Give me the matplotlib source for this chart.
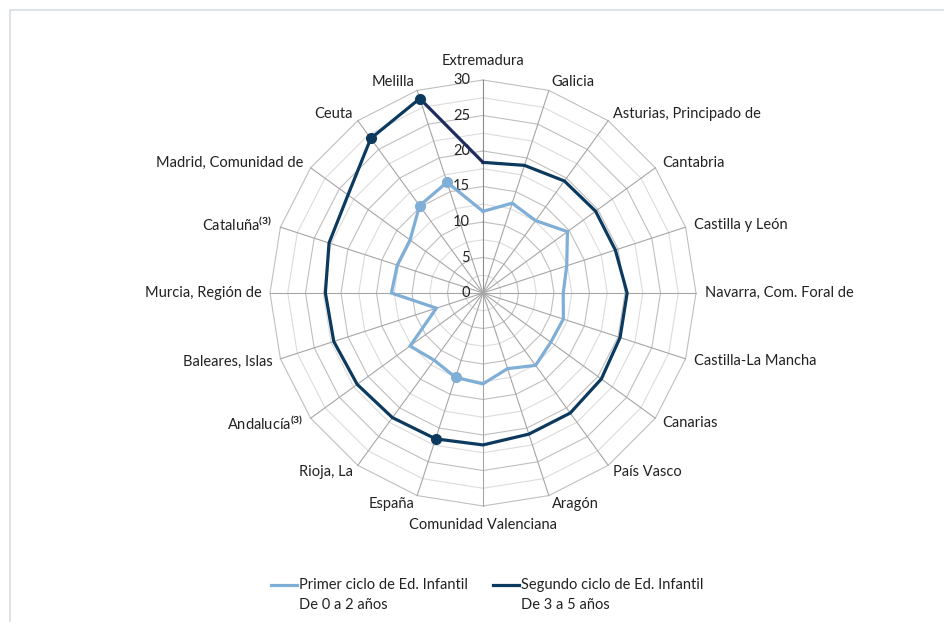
import numpy as np
import matplotlib.pyplot as plt
from matplotlib.lines import Line2D
from matplotlib.patches import Rectangle

plt.rcParams['font.family'] = ['Lato', 'DejaVu Sans']
plt.rcParams['mathtext.fontset'] = 'custom'
plt.rcParams['mathtext.rm'] = 'Lato'
plt.rcParams['mathtext.bf'] = 'Lato:bold'

categories = ['Extremadura', 'Galicia', 'Asturias, Principado de', 'Cantabria',
              'Castilla y León', 'Navarra, Com. Foral de', 'Castilla-La Mancha',
              'Canarias', 'País Vasco', 'Aragón', 'Comunidad Valenciana', 'España',
              'Rioja, La', 'Andalucía$^{\\mathbf{(3)}}$', 'Baleares, Islas',
              'Murcia, Región de', 'Cataluña$^{\\mathbf{(3)}}$', 'Madrid, Comunidad de',
              'Ceuta', 'Melilla']
primer = [11.5, 13.3, 12.6, 14.7, 12.4, 11.3, 11.9, 11.8, 12.6, 11.2,
          12.8, 12.5, 11.7, 12.7, 6.9, 12.9, 12.7, 12.7, 15.2, 16.4]
segundo = [18.4, 18.9, 19.5, 19.6, 19.6, 20.3, 20.3, 20.6, 20.9, 20.9,
           21.4, 21.6, 21.7, 21.9, 22.1, 22.2, 22.8, 23.5, 26.9, 28.8]
marked = ['España', 'Ceuta', 'Melilla']
ticks = [0, 5, 10, 15, 20, 25, 30]
series_names = [('Primer ciclo de Ed. Infantil', 'De 0 a 2 años'),
                ('Segundo ciclo de Ed. Infantil', 'De 3 a 5 años')]

light = '#7FAED6'
dark = '#0B3A5E'

n = len(categories)
theta = 2 * np.pi * np.arange(n) / n
sx, cy = np.sin(theta), np.cos(theta)

W, H = 945, 622
fig = plt.figure(figsize=(W / 100, H / 100), dpi=100)
fig.patches.append(Rectangle((10 / W, -0.1), 1.2, (612 / H) + 0.1,
                             transform=fig.transFigure, fill=False,
                             edgecolor='#D5DBE6', lw=1.2))

# 7.1 px per unit, center at (483, 293)
w = 80 * 7.1
ax = fig.add_axes([(483 - w / 2) / W, (329 - w / 2) / H, w / W, w / H])
ax.set_xlim(-40, 40)
ax.set_ylim(-40, 40)
ax.axis('off')

# rings
for r in np.arange(2.5, 30.1, 2.5):
    c = '#BFBFBF' if r % 5 == 0 else '#DCDCDC'
    ax.plot(np.append(r * sx, r * sx[0]), np.append(r * cy, r * cy[0]),
            color=c, lw=0.8, zorder=1)
# spokes
for i in range(n):
    ax.plot([0, 30 * sx[i]], [0, 30 * cy[i]],
            color='#8C8C8C' if i == 0 else '#A6A6A6', lw=0.8, zorder=2)

for t in ticks:
    ax.text(-1.8, t, str(t), ha='right', va='center', fontsize=10.5, color='#222222')

for i, lab in enumerate(categories):
    s = sx[i]
    if abs(s) < 1e-6:
        r = 32.7
        ha = 'center'
    else:
        r = 31.2
        ha = 'left' if s > 0 else 'right'
    ax.text(r * sx[i], r * cy[i], lab, ha=ha, va='center', fontsize=10.5,
            color='#222222')

for vals, col in [(primer, light), (segundo, dark)]:
    v = np.array(vals)
    ax.plot(v * sx, v * cy, color=col, lw=2.3, zorder=4, solid_joinstyle='miter')
    closing = '#1E2B5E' if col == dark else col
    ax.plot([v[-1] * sx[-1], v[0] * sx[0]], [v[-1] * cy[-1], v[0] * cy[0]],
            color=closing, lw=2.3, zorder=4)
    idx = [categories.index(m) for m in marked]
    ax.plot(v[idx] * sx[idx], v[idx] * cy[idx], 'o', color=col, ms=7, zorder=5)

# legend: handle aligned with the first text line
for (l1, l2), col, x0 in zip(series_names, [light, dark], [271, 493]):
    fig.add_artist(Line2D([x0 / W, (x0 + 26) / W], [1 - 585 / H] * 2,
                          color=col, lw=2.3, transform=fig.transFigure))
    fig.text((x0 + 28) / W, 1 - 585 / H, l1, ha='left', va='center',
             fontsize=10.5, color='#222222')
    fig.text((x0 + 28) / W, 1 - 605 / H, l2, ha='left', va='center',
             fontsize=10.5, color='#222222')

fig.savefig('out.png', dpi=100)
